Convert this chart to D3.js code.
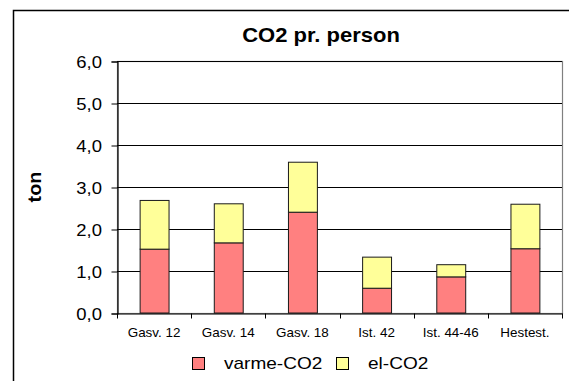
<!DOCTYPE html>
<html>
<head>
<meta charset="utf-8">
<script src="https://cdn.jsdelivr.net/npm/d3@7"></script>
<style>
	body { margin: 0; background: #fff; }
	text { font-family: 'Liberation Sans', Arial, sans-serif; fill: #000; }
</style>
</head>
<body>
<script>
var categories = ['Gasv. 12', 'Gasv. 14', 'Gasv. 18', 'Ist. 42', 'Ist. 44-46', 'Hestest.'];
var varmeCO2 = [1.52, 1.67, 2.40, 0.59, 0.86, 1.53];
var elCO2 = [1.16, 0.93, 1.19, 0.74, 0.29, 1.06];
var yTicks = [0, 1, 2, 3, 4, 5, 6];
var seriesNames = ['varme-CO2', 'el-CO2'];
var seriesColors = ['#ff8080', '#ffff99'];

var width = 569, height = 381;
var plot = { left: 117, right: 562, top: 61, bottom: 313 };
// the original fonts are drawn a little wider than they are tall
var stretch = 1.12;

var svg = d3.select('body').append('svg').attr('width', width).attr('height', height);

// outer chart frame (runs off the right and bottom edges)
svg.append('rect')
	.attr('x', 13.5).attr('y', 10.5).attr('width', 700).attr('height', 500)
	.attr('fill', 'none').attr('stroke', '#000').attr('stroke-width', 1.5);

var x = d3.scaleBand().domain(categories).range([plot.left, plot.right])
	.paddingInner(0.61).paddingOuter(0.305);
var y = d3.scaleLinear().domain([0, 6]).range([plot.bottom, plot.top]);

// plot area border
svg.append('rect')
	.attr('x', plot.left + 0.5).attr('y', plot.top + 0.5)
	.attr('width', plot.right - plot.left).attr('height', plot.bottom - plot.top)
	.attr('fill', 'none').attr('stroke', '#808080').attr('stroke-width', 1.2);

// gridlines
svg.append('g').selectAll('line').data(yTicks.slice(1)).enter().append('line')
	.attr('x1', plot.left).attr('x2', plot.right)
	.attr('y1', function(d) { return Math.round(y(d)) + 0.5; })
	.attr('y2', function(d) { return Math.round(y(d)) + 0.5; })
	.attr('stroke', '#000').attr('stroke-width', 1);

// stacked bars
var rows = categories.map(function(c, i) {
	return { cat: c, varme: varmeCO2[i], el: elCO2[i] };
});
var stack = d3.stack().keys(['varme', 'el'])(rows);

svg.append('g').selectAll('g').data(stack).enter().append('g')
	.attr('fill', function(d, i) { return seriesColors[i]; })
	.selectAll('rect').data(function(d) { return d; }).enter().append('rect')
	.attr('x', function(d) { return x(d.data.cat) + 0.5; })
	.attr('y', function(d) { return y(d[1]); })
	.attr('width', x.bandwidth())
	.attr('height', function(d) { return y(d[0]) - y(d[1]); })
	.attr('stroke', '#1a1a1a').attr('stroke-width', 1);

// y axis
var yAxis = d3.axisLeft(y).tickValues(yTicks).tickSize(6).tickPadding(9)
	.tickFormat(function(d) { return d3.format('.1f')(d).replace('.', ','); });
var gy = svg.append('g').attr('transform', 'translate(' + (plot.left + 0.5) + ',0.5)').call(yAxis);
gy.select('.domain').attr('stroke', '#000').attr('stroke-width', 1.2);
gy.selectAll('.tick line').attr('stroke', '#000');
gy.selectAll('text').attr('font-size', '16.5px').attr('dy', '0.35em')
	.attr('x', 0).attr('transform', 'translate(-15.5,0) scale(' + stretch + ',1)');

// x axis
var xAxis = d3.axisBottom(x).tickSize(0).tickPadding(15);
var gx = svg.append('g').attr('transform', 'translate(0,' + (plot.bottom + 0.5) + ')').call(xAxis);
gx.select('.domain').attr('stroke', '#000').attr('stroke-width', 1.2);
gx.selectAll('text').attr('font-size', '12px')
	.attr('y', 0).attr('transform', 'translate(0,15) scale(' + stretch + ',1)');

// category boundary ticks
var bounds = categories.map(function(c) { return x(c) + x.bandwidth() / 2 - x.step() / 2; });
bounds.push(plot.right);
gx.selectAll('.bound').data(bounds).enter().append('line')
	.attr('x1', function(d) { return Math.round(d) + 0.5; })
	.attr('x2', function(d) { return Math.round(d) + 0.5; })
	.attr('y1', 0).attr('y2', 5)
	.attr('stroke', '#000').attr('stroke-width', 1);

// title
svg.append('text').attr('transform', 'translate(321,42) scale(1.1,1)')
	.attr('text-anchor', 'middle').attr('font-size', '20px').attr('font-weight', 'bold')
	.text('CO2 pr. person');

// y label
svg.append('text').attr('transform', 'translate(41,187) rotate(-90) scale(1.1,1)')
	.attr('text-anchor', 'middle').attr('font-size', '18px').attr('font-weight', 'bold')
	.text('ton');

// legend
var legendX = [192, 336];
var legend = svg.append('g').selectAll('g').data(seriesNames).enter().append('g')
	.attr('transform', function(d, i) { return 'translate(' + legendX[i] + ',357)'; });
legend.append('rect')
	.attr('x', 0.5).attr('y', 0.5).attr('width', 12).attr('height', 12)
	.attr('fill', function(d, i) { return seriesColors[i]; })
	.attr('stroke', '#000').attr('stroke-width', 1);
legend.append('text').attr('transform', 'translate(32,11.5) scale(' + stretch + ',1)')
	.attr('font-size', '17px')
	.text(function(d) { return d; });
</script>
</body>
</html>
